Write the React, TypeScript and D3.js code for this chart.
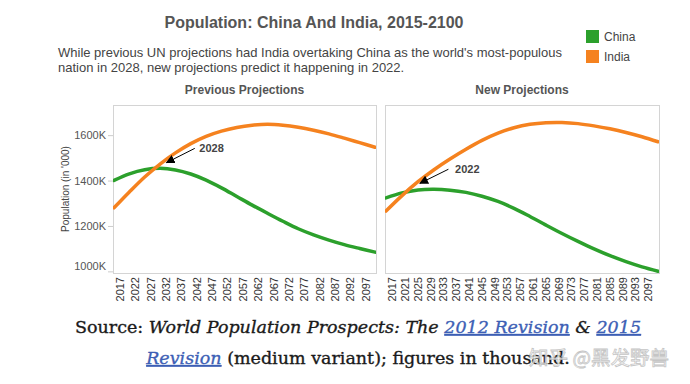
import React from "react";
import * as d3 from "d3";

const years = [2015, 2020, 2025, 2030, 2035, 2040, 2045, 2050, 2055, 2060, 2065, 2070, 2075, 2080, 2085, 2090, 2095, 2100];
const prevChina = [1403, 1432, 1450, 1456, 1449, 1431, 1404, 1370, 1332, 1294, 1258, 1223, 1190, 1163, 1140, 1120, 1103, 1087];
const prevIndia = [1282, 1352, 1418, 1475, 1524, 1565, 1597, 1620, 1636, 1646, 1650, 1646, 1637, 1624, 1608, 1589, 1569, 1549];
const newChina = [1326, 1348, 1361, 1364, 1360, 1350, 1333, 1310, 1280, 1244, 1206, 1169, 1134, 1101, 1071, 1045, 1022, 1003];
const newIndia = [1268, 1336, 1397, 1450, 1497, 1540, 1579, 1611, 1635, 1650, 1657, 1658, 1653, 1643, 1630, 1614, 1595, 1573];

const prevTicks = d3.range(2017, 2100, 5);
const newTicks = d3.range(2017, 2100, 4);
const yTicks = [1000, 1200, 1400, 1600];

const seriesNames = ["China", "India"];
const colors = ["#2ca02c", "#f5821f"];

const annotations = [
  { label: "2028", tipYear: 2032.1, tipValue: 1481, fromYear: 2041.3, fromValue: 1544, textYear: 2042.8 },
  { label: "2022", tipYear: 2025.6, tipValue: 1390, fromYear: 2034.5, fromValue: 1452, textYear: 2036.6 },
];

const FONT = "'Liberation Sans', Arial, sans-serif";
const SERIF = "'DejaVu Serif', serif";

export default function App() {
  const top = 105, bottom = 273;
  const y = d3.scaleLinear().domain([995, 1735]).range([bottom, top]);
  const panels = [
    { title: "Previous Projections", x0: 113, x1: 376, data: [prevChina, prevIndia], ticks: prevTicks, ann: annotations[0] },
    { title: "New Projections", x0: 385, x1: 659, data: [newChina, newIndia], ticks: newTicks, ann: annotations[1] },
  ];

  return (
    <svg width={690} height={384} style={{ position: "absolute", left: 0, top: 0, background: "#fff" }} fontFamily={FONT}>
      <defs>
        {panels.map((p, i) => (
          <clipPath id={"clip" + i} key={i}>
            <rect x={p.x0} y={top} width={p.x1 - p.x0} height={bottom - top} />
          </clipPath>
        ))}
        <marker id="arrow" viewBox="0 0 10 10" refX="9" refY="5" markerWidth="9" markerHeight="9" markerUnits="userSpaceOnUse" orient="auto">
          <path d="M0,0 L10,5 L0,10 z" fill="#000" />
        </marker>
      </defs>
      <text x={314} y={28} textAnchor="middle" fontSize={16} fontWeight="bold" fill="#555">
        Population: China And India, 2015-2100
      </text>
      <text x={58} y={57} fontSize={13} fill="#444">
        While previous UN projections had India overtaking China as the world's most-populous
      </text>
      <text x={58} y={72} fontSize={13} fill="#444">
        nation in 2028, new projections predict it happening in 2022.
      </text>
      {seriesNames.map((s, i) => (
        <g key={s}>
          <rect x={586} y={30 + i * 20} width={13} height={13} fill={colors[i]} />
          <text x={604} y={41 + i * 20} fontSize={12} fill="#444">{s}</text>
        </g>
      ))}
      <text transform={`translate(69,${(top + bottom) / 2}) rotate(-90)`} textAnchor="middle" fontSize={10} fill="#444">
        Population (in '000)
      </text>
      {yTicks.map((t) => {
        const yy = y(t);
        const ly = Math.min(yy, bottom - 7);
        return (
          <g key={t}>
            <line x1={108} x2={113} y1={yy} y2={yy} stroke="#ccc" />
            <text x={106} y={ly} dy="0.35em" textAnchor="end" fontSize={11} fill="#555">{t + "K"}</text>
          </g>
        );
      })}
      {panels.map((p, i) => {
        const x = d3.scaleLinear().domain([2015, 2100]).range([p.x0 + 1, p.x1 - 1]);
        const line = d3
          .line<number>()
          .x((_, j) => x(years[j]))
          .y((d) => y(d))
          .curve(d3.curveCatmullRom.alpha(0.5));
        const a = p.ann;
        return (
          <g key={p.title}>
            <text x={(p.x0 + p.x1) / 2} y={94} textAnchor="middle" fontSize={12} fontWeight="bold" fill="#555">
              {p.title}
            </text>
            <rect x={p.x0 + 0.5} y={top + 0.5} width={p.x1 - p.x0} height={bottom - top} fill="none" stroke="#d4d4d4" />
            <g clipPath={`url(#clip${i})`}>
              {p.data.map((d, k) => (
                <path key={k} d={line(d) || ""} fill="none" stroke={colors[k]} strokeWidth={3.5} strokeLinecap="round" />
              ))}
            </g>
            <line
              x1={x(a.fromYear)}
              y1={y(a.fromValue)}
              x2={x(a.tipYear)}
              y2={y(a.tipValue)}
              stroke="#000"
              strokeWidth={1}
              markerEnd="url(#arrow)"
            />
            <text x={x(a.textYear)} y={y(a.fromValue)} dy="0.35em" fontSize={11} fontWeight="bold" fill="#444">
              {a.label}
            </text>
            {p.ticks.map((t) => (
              <text
                key={t}
                transform={`translate(${x(t)},277) rotate(-90)`}
                textAnchor="end"
                dy="0.35em"
                fontSize={11}
                fill="#333"
              >
                {t}
              </text>
            ))}
          </g>
        );
      })}
      <text x={358} y={333} textAnchor="middle" fontSize={17.5} fill="#1a1a1a" stroke="#1a1a1a" strokeWidth={0.35} fontFamily={SERIF}>
        <tspan>Source: </tspan>
        <tspan fontStyle="italic">World Population Prospects: The </tspan>
        <tspan fontStyle="italic" fill="#3d5fb5" stroke="#3d5fb5" textDecoration="underline">2012 Revision</tspan>
        <tspan fontStyle="italic"> &amp; </tspan>
        <tspan fontStyle="italic" fill="#3d5fb5" stroke="#3d5fb5" textDecoration="underline">2015</tspan>
      </text>
      <text x={358} y={364} textAnchor="middle" fontSize={17.5} fill="#1a1a1a" stroke="#1a1a1a" strokeWidth={0.35} fontFamily={SERIF}>
        <tspan fontStyle="italic" fill="#3d5fb5" stroke="#3d5fb5" textDecoration="underline">Revision</tspan>
        <tspan> (medium variant); figures in thousand.</tspan>
      </text>
      <text x={599} y={365} textAnchor="middle" fontSize={19.5} fill="#fff" stroke="#bbb" strokeWidth={0.8} opacity={0.85} fontFamily="'Noto Sans CJK SC', sans-serif">
        知乎 @黑发野兽
      </text>
    </svg>
  );
}
